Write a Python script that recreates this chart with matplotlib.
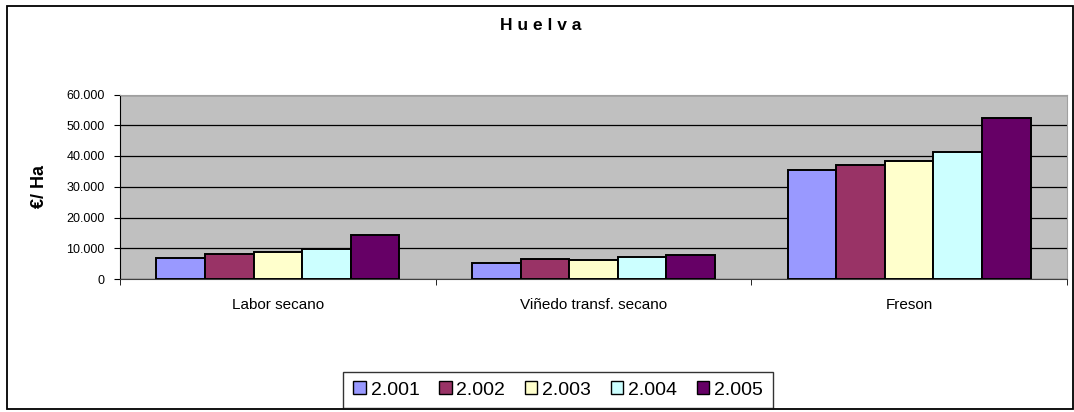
import numpy as np
import matplotlib.pyplot as plt
from matplotlib.patches import Patch, Rectangle
from matplotlib.ticker import FuncFormatter

# datos (euros por hectarea)
cultivos = ["Labor secano", "Viñedo transf. secano", "Freson"]
anios = ["2.001", "2.002", "2.003", "2.004", "2.005"]
v_2001 = [6900, 5200, 35500]
v_2002 = [8100, 6400, 37100]
v_2003 = [8700, 6200, 38300]
v_2004 = [9900, 7000, 41300]
v_2005 = [14300, 7700, 52500]
colores = ["#9999FF", "#993366", "#FFFFCC", "#CCFFFF", "#660066"]

series = [v_2001, v_2002, v_2003, v_2004, v_2005]

plt.rcParams['font.family'] = ['Liberation Sans', 'DejaVu Sans']

fig = plt.figure(figsize=(10.74, 4.12), dpi=100)
ax = fig.add_axes([120/1074, 1-279/412, 947/1074, (279-94.5)/412])

# marco exterior del grafico
fig.patches.append(Rectangle((7/1074, 3/412), 1066/1074, 403/412, transform=fig.transFigure,
                             fill=False, edgecolor='black', linewidth=1.3))

x = np.arange(len(cultivos))
ancho = 1/6.5
for i, s in enumerate(series):
    ax.bar(x - 2*ancho + i*ancho, s, ancho, color=colores[i], edgecolor='black',
           linewidth=1.4, zorder=3)

ax.set_facecolor('#C0C0C0')
ax.set_xlim(-0.5, 2.5)
ax.set_ylim(0, 60000)
ax.set_yticks(np.arange(0, 60001, 10000))
ax.yaxis.set_major_formatter(FuncFormatter(lambda v, p: "0" if v == 0 else f"{int(v):,}".replace(",", ".")))
ax.grid(axis='y', color='black', linewidth=0.9, zorder=1)
ax.set_axisbelow(True)

ax.set_xticks(x)
ax.set_xticklabels(cultivos, fontsize=11)
ax.set_xticks([-0.5, 0.5, 1.5, 2.5], minor=True)
ax.tick_params(axis='x', which='major', length=0, pad=14)
ax.tick_params(axis='x', which='minor', length=4, color='black')
ax.tick_params(axis='y', labelsize=9, length=4, pad=7)

for lado in ['top', 'right']:
    ax.spines[lado].set_color('#A0A0A0')
ax.spines['left'].set_color('black')
ax.spines['bottom'].set_color('#404040')

ax.set_ylabel("€/ Ha", fontsize=13, fontweight='bold', labelpad=13)
fig.text(541/1074, 1-26/412, "H u e l v a", ha='center', va='center', fontsize=12.5, fontweight='bold')

manejadores = [Patch(facecolor=c, edgecolor='black', linewidth=1) for c in colores]
leg = fig.legend(manejadores, anios, loc='center', ncol=5,
                 bbox_to_anchor=((343+773)/2/1074, 1-(372+408)/2/412),
                 fontsize=14, frameon=True, fancybox=False, edgecolor='black',
                 handlelength=0.65, handleheight=0.65, handletextpad=0.25, columnspacing=1.0,
                 borderpad=0.5, borderaxespad=0)
leg.get_frame().set_linewidth(1)

fig.savefig("out.png", dpi=100)
